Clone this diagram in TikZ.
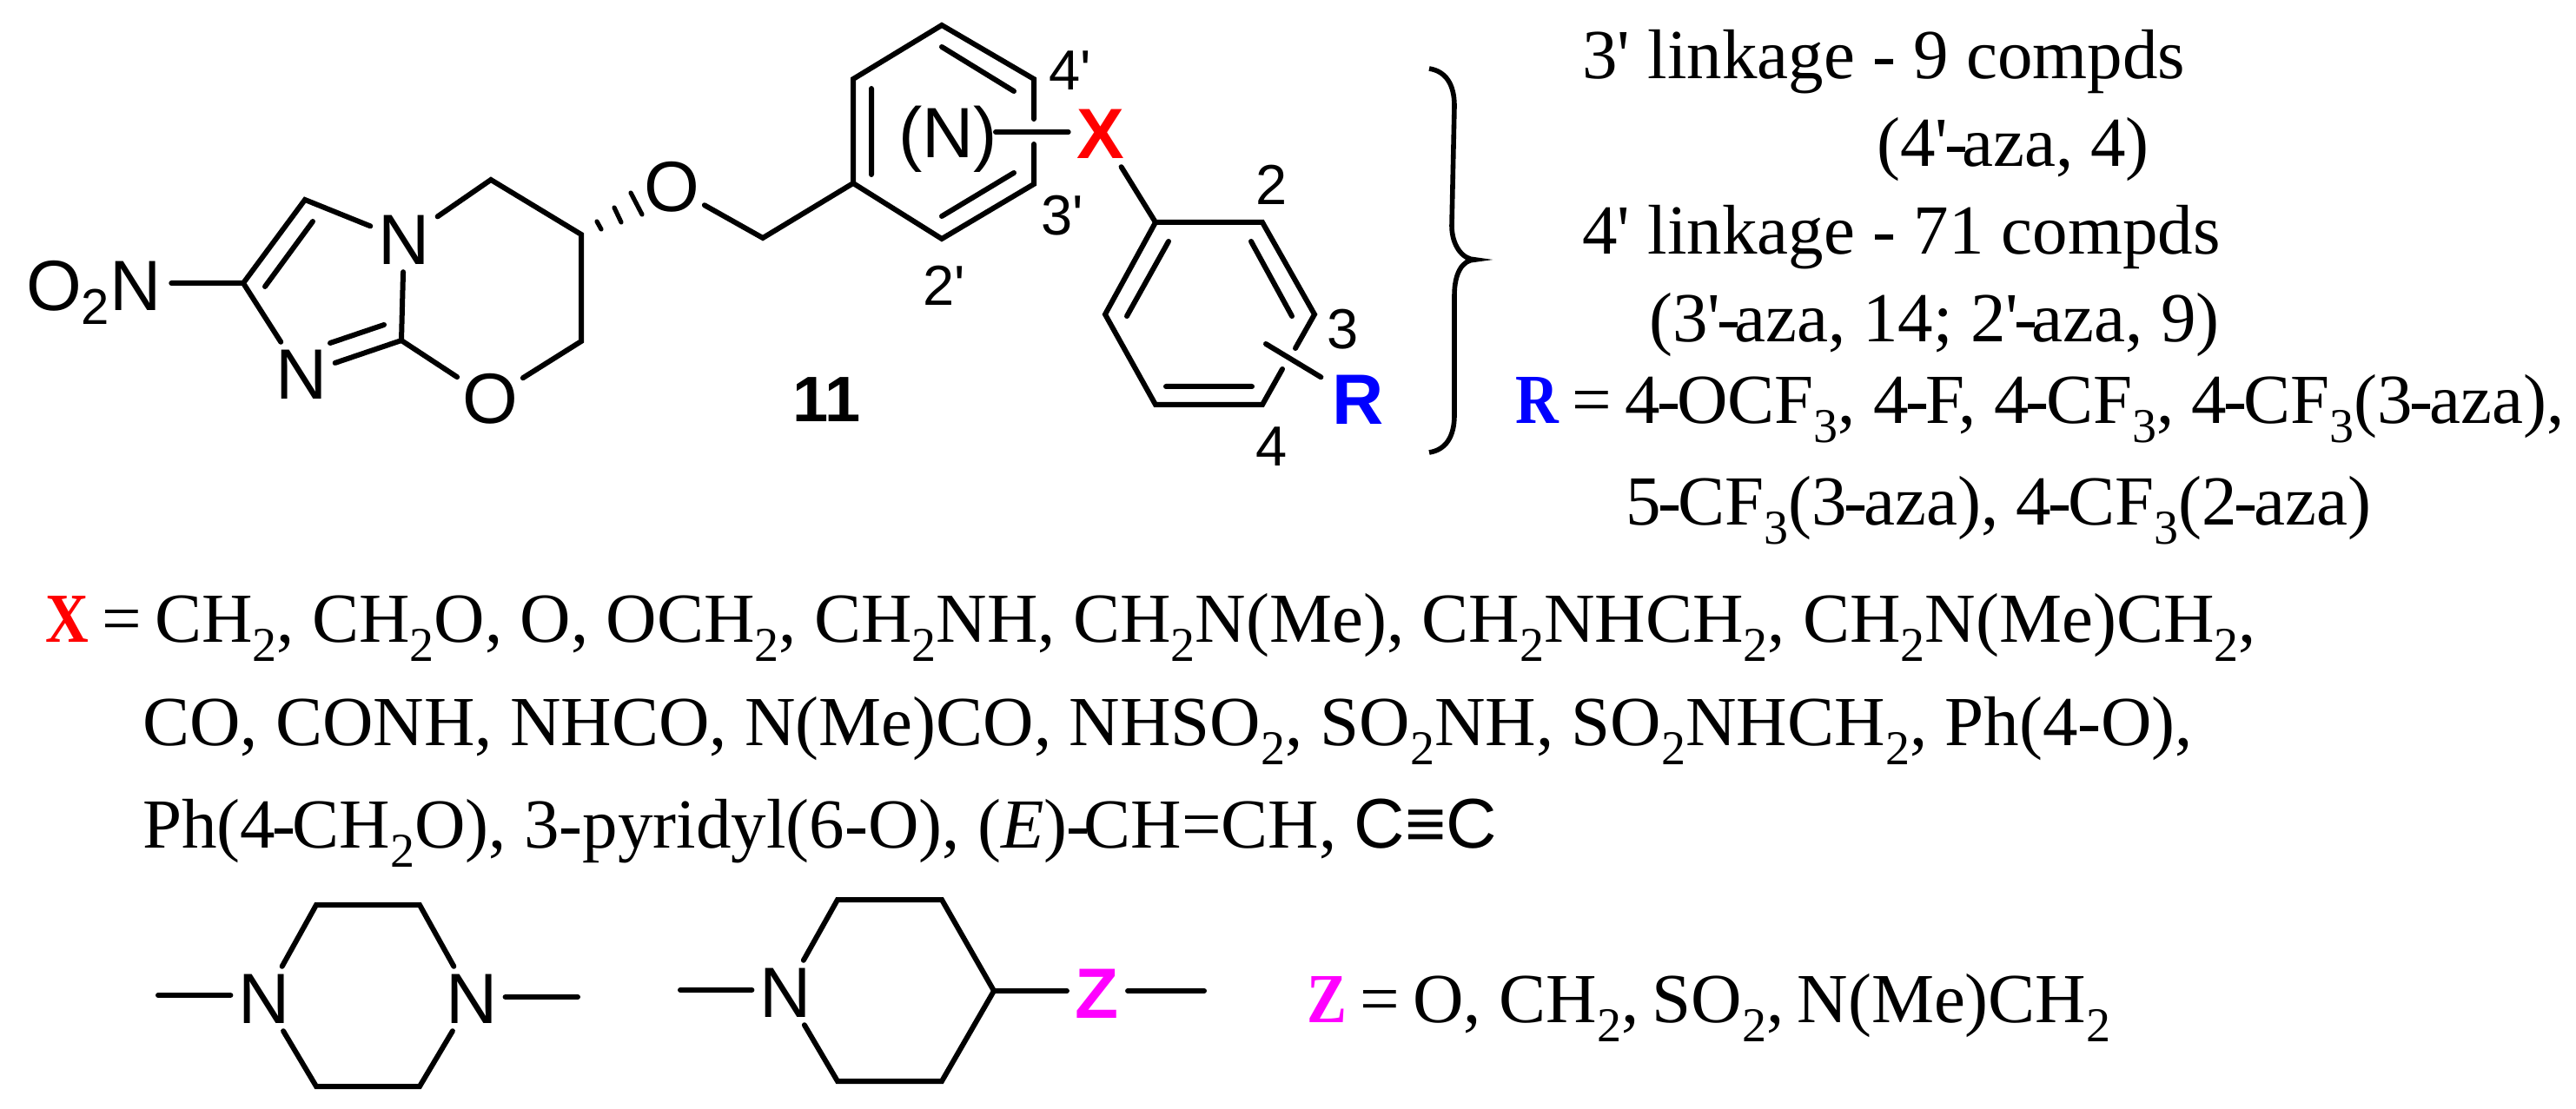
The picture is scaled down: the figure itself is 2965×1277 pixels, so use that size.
\documentclass[tikz,border=0pt]{standalone}
\usepackage{fontspec}
\usepackage{graphicx}
\newfontfamily\tms{Liberation Serif}
\newfontfamily\arl{Liberation Sans}
\newcommand{\sbs}[1]{\raisebox{-11pt}{\fontsize{28}{28}\selectfont #1}}
\newcommand{\nar}[2]{\scalebox{.85}[1]{\bfseries\color{#1}#2}}
\newcommand{\hy}{\kern-1.9pt-\kern-1.9pt}
\newcommand{\hya}{\kern-2.2pt-\kern-3.5pt}
\newcommand{\eqs}{\kern-2.5pt\ =\ \kern-2.5pt}
\definecolor{zmag}{RGB}{255,0,255}
\definecolor{rblue}{RGB}{0,0,255}
\tikzset{
  bond/.style={line width=3pt,line cap=round,line join=miter,black},
  atom/.style={font=\arl\fontsize{41}{41}\selectfont,inner sep=4.5pt,outer sep=0pt},
  atomO/.style={atom,inner sep=3pt},
  num/.style={font=\arl\fontsize{32.5}{32.5}\selectfont,inner sep=0pt},
  txt/.style={font=\tms\fontsize{40.5}{40.5}\selectfont,inner sep=0pt,anchor=base west},
}
\begin{document}
\begin{tikzpicture}[x=0.5pt,y=-0.5pt]
\useasboundingbox (0,0) rectangle (2965,1277);
% atoms
\node[atom,anchor=base west,inner sep=0pt,outer sep=6pt] (nitro) at (18,358) {O\raisebox{-8pt}{\fontsize{29}{29}\selectfont 2}N};
\coordinate (c2) at (280,326);
\coordinate (c3) at (351,230);
\node[atom] (n1) at (465,276) {N};
\node[atom] (n3) at (347,431) {N};
\coordinate (c8) at (462,392);
\node[atomO] (o8) at (564,459) {O};
\coordinate (c7) at (669,393);
\coordinate (c6) at (669,270);
\coordinate (c5) at (565,207);
\node[atomO] (o1) at (773,215) {O};
\coordinate (ch) at (878,274);
% imidazooxazine
\draw[bond] (nitro.east |- c2) -- (c2) -- (c3) -- (n1);
\draw[bond] (c2) -- (n3);
\draw[bond] (n3) -- (c8) -- (n1);
\draw[bond] (c8) -- (o8);
\draw[bond] (o8) -- (c7) -- (c6) -- (c5) -- (n1);
\coordinate (d1a) at (360,255); \coordinate (d1b) at (305,330);
\draw[bond] (d1a) -- (d1b);
\coordinate (d2a) at (442,374); \coordinate (d2b) at (380,395);
\draw[bond] (d2a) -- (d2b);
% hashed bond
\coordinate (h1a) at (687,255); \coordinate (h1b) at (692,264);
\coordinate (h2a) at (707,239); \coordinate (h2b) at (715,256);
\coordinate (h3a) at (726,222); \coordinate (h3b) at (739,247);
\draw[bond,line width=2.6pt] (h1a) -- (h1b) (h2a) -- (h2b) (h3a) -- (h3b);
% linker and middle ring
\coordinate (r1) at (982,211);
\coordinate (r2) at (982,91);
\coordinate (r3) at (1084,29);
\coordinate (r4) at (1190,91);
\coordinate (r5) at (1190,212);
\coordinate (r6) at (1084,275);
\coordinate (g1) at (1190,137);
\coordinate (g2) at (1190,166);
\draw[bond] (o1) -- (ch) -- (r1);
\draw[bond] (g1) -- (r4) -- (r3) -- (r2) -- (r1) -- (r6) -- (r5) -- (g2);
\coordinate (i1) at (1003,102); \coordinate (i2) at (1003,201);
\coordinate (i3) at (1084,54); \coordinate (i4) at (1167,105);
\coordinate (i5) at (1167,199); \coordinate (i6) at (1084,249);
\draw[bond] (i1) -- (i2) (i3) -- (i4) (i5) -- (i6);
\node[atom,inner sep=0pt] (pn) at (1091,160.5) {(N)};
\node[atom,font=\arl\bfseries\fontsize{41}{41}\selectfont,text=red,inner sep=5pt] (x) at (1267,154) {X};
\coordinate (pb) at (1146,152);
\draw[bond] (pb) -- (pb -| x.west);
% phenyl ring
\coordinate (p1) at (1330,256);
\coordinate (p2) at (1453,256);
\coordinate (p3) at (1513,362);
\coordinate (p4) at (1453,466);
\coordinate (p5) at (1330,466);
\coordinate (p6) at (1272,362);
\coordinate (g3) at (1491,401);
\coordinate (g4) at (1476,425);
\draw[bond] (x) -- (p1);
\draw[bond] (g3) -- (p3) -- (p2) -- (p1) -- (p6) -- (p5) -- (p4) -- (g4);
\coordinate (j1) at (1345,278); \coordinate (j2) at (1297,364);
\coordinate (j3) at (1440,278); \coordinate (j4) at (1487,364);
\coordinate (j5) at (1342,445); \coordinate (j6) at (1441,445);
\draw[bond] (j1) -- (j2) (j3) -- (j4) (j5) -- (j6);
\node[atom,font=\arl\bfseries\fontsize{41}{41}\selectfont,text=rblue,inner sep=6.5pt] (rr) at (1563,460) {R};
\coordinate (rf) at (1457,396);
\draw[bond] (rf) -- (rr);
% position labels
\node[num] (l4p) at (1232,81) {4'};
\node[num] (l2) at (1464,213) {2};
\node[num] (l3p) at (1223,248) {3'};
\node[num] (l2p) at (1087,329) {2'};
\node[num] (l3) at (1546,379) {3};
\node[num] (l4) at (1464,514) {4};
\node[num,font=\arl\bfseries\fontsize{37}{37}\selectfont] (l11) at (952,460) {11};
% brace
\coordinate (b0) at (1645,79);
\coordinate (b1) at (1674,122);
\coordinate (b2) at (1671,260);
\coordinate (b3) at (1698,299);
\coordinate (b4) at (1674,340);
\coordinate (b5) at (1674,478);
\coordinate (b6) at (1645,521);
\draw[bond,line width=2.8pt,line cap=butt]
  (b0) .. controls (1664,82) and (1674,97) .. (b1) -- (b2)
  .. controls (1671,282) and (1683,299) .. (b3)
  .. controls (1683,299) and (1674,315) .. (b4) -- (b5)
  .. controls (1674,503) and (1664,518) .. (b6);
% right text
\node[txt] (t1) at (1821,91) {3' linkage - 9 compds};
\node[txt] (t2) at (2160,192) {(4'\hya aza, 4)};
\node[txt] (t3) at (1821,293) {4' linkage - 71 compds};
\node[txt] (t4) at (1898,394) {(3'\hya aza, 14; 2'\hya aza, 9)};
\node[txt] (t5) at (1744,488) {\nar{rblue}{R}\eqs 4\hy OCF\sbs{3}, 4\hy F, 4\hy CF\sbs{3}, 4\hy CF\sbs{3}(3\hy aza),};
\node[txt] (t6) at (1871,605) {5\hy CF\sbs{3}(3\hy aza), 4\hy CF\sbs{3}(2\hy aza)};
% X lines
\node[txt] (xt1) at (52,740) {\nar{red}{X}\eqs CH\sbs{2}, CH\sbs{2}O, O, OCH\sbs{2}, CH\sbs{2}NH, CH\sbs{2}N(Me), CH\sbs{2}NHCH\sbs{2}, CH\sbs{2}N(Me)CH\sbs{2},};
\node[txt] (xt2) at (164,858) {CO, CONH, NHCO, N(Me)CO, NHSO\sbs{2}, SO\sbs{2}NH, SO\sbs{2}NHCH\sbs{2}, Ph(4-O),};
\node[txt] (xt3) at (164,976) {Ph(4\hy CH\sbs{2}O), 3-pyridyl(6-O), ({\itshape E})\kern-.5pt-\kern-3.5pt CH=CH, {\arl C≡C}};
% piperazine
\node[atom] (na) at (304,1150) {N};
\node[atom] (nb) at (543,1150) {N};
\coordinate (sa) at (182,1146);
\coordinate (sb) at (665,1148);
\coordinate (q1) at (364,1042);
\coordinate (q2) at (483,1042);
\coordinate (q3) at (364,1251);
\coordinate (q4) at (483,1251);
\draw[bond] (sa) -- (sa -| na.west);
\draw[bond] (nb.east |- sb) -- (sb);
\draw[bond] (na) -- (q1) -- (q2) -- (nb) -- (q4) -- (q3) -- (na);
% piperidine
\node[atom] (nc) at (904,1143) {N};
\node[atom,font=\arl\bfseries\fontsize{41}{41}\selectfont,text=zmag,inner sep=5pt] (zz) at (1263,1144) {Z};
\coordinate (sc) at (783,1140);
\coordinate (sd) at (1386,1141);
\coordinate (u1) at (964,1036);
\coordinate (u2) at (1084,1036);
\coordinate (u3) at (1144,1141);
\coordinate (u4) at (1084,1245);
\coordinate (u5) at (964,1245);
\draw[bond] (sc) -- (sc -| nc.west);
\draw[bond] (nc) -- (u1) -- (u2) -- (u3) -- (u4) -- (u5) -- (nc);
\draw[bond] (u3) -- (u3 -| zz.west);
\draw[bond] (zz.east |- sd) -- (sd);
\node[txt] (zt) at (1504,1177) {\nar{zmag}{Z}\eqs O, CH\sbs{2},\kern-2.5pt{} SO\sbs{2},\kern-2.5pt{} N(Me)CH\sbs{2}};
\end{tikzpicture}
\end{document}
